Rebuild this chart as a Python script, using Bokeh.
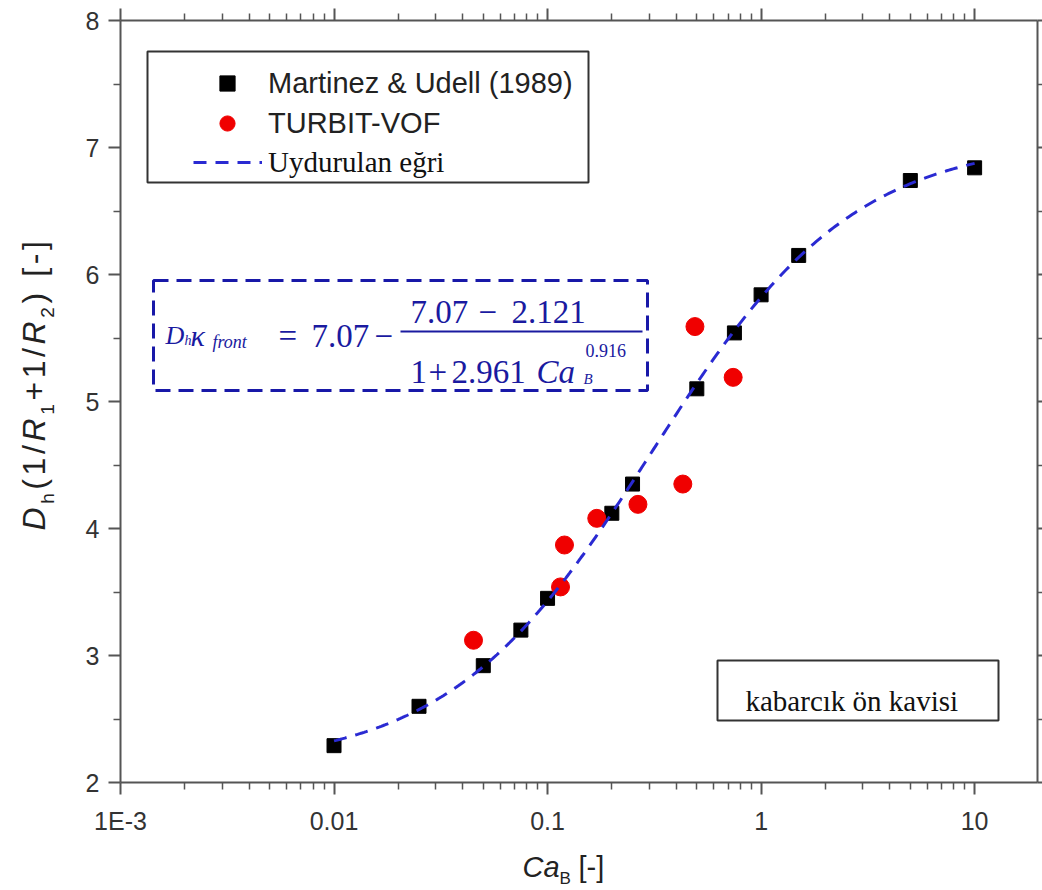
import numpy as np
from bokeh.plotting import figure
from bokeh.layouts import row, column
from bokeh.models import (Range1d, LogAxis, LinearAxis, FixedTicker, CustomJSTickFormatter,
                          Label, BoxAnnotation, Legend, LegendItem)
from bokeh.embed import file_html
from bokeh.resources import INLINE

# Martinez & Udell (1989) measurements
ca_exp = [0.01, 0.025, 0.05, 0.075, 0.1, 0.2, 0.25, 0.5, 0.75, 1.0, 1.5, 5.0, 10.0]
dk_exp = [2.29, 2.60, 2.92, 3.20, 3.45, 4.12, 4.35, 5.10, 5.54, 5.84, 6.15, 6.74, 6.84]

# TURBIT-VOF simulations
ca_sim = [0.045, 0.115, 0.12, 0.17, 0.265, 0.43, 0.49, 0.74]
dk_sim = [3.12, 3.54, 3.87, 4.08, 4.19, 4.35, 5.59, 5.19]

# fitted curve: D_h*kappa = a - (a - b) / (1 + c * Ca^n)
fit_a = 7.07
fit_b = 2.121
fit_c = 2.961
fit_n = 0.916
fit_ca_min, fit_ca_max = 0.01, 10.0

x_ticks = [0.001, 0.01, 0.1, 1, 10]
y_ticks = [2, 3, 4, 5, 6, 7, 8]

SANS = "Liberation Sans"
SERIF = "Liberation Serif"
AXIS_GREY = "#555555"
EQ_BLUE = "#1a1aa0"

W, H = 1042, 890
YT_W = 60          # strip holding the y-axis title
XT_H = 45          # strip holding the x-axis title
MAIN_W, MAIN_H = W - YT_W, H - XT_H
FL, FR, FT, FB = 120, 1037, 20, 782  # frame edges in page pixels

p = figure(width=MAIN_W, height=MAIN_H, x_axis_type="log",
           x_range=Range1d(0.001, 19.7), y_range=Range1d(2, 8),
           output_backend="svg", toolbar_location=None,
           min_border_left=FL - YT_W, min_border_right=W - FR,
           min_border_top=FT, min_border_bottom=MAIN_H - FB)
p.outline_line_color = None
p.grid.visible = False
p.background_fill_color = "white"
p.border_fill_color = "white"

x_minor = [m * 10.0 ** e for e in range(-3, 2) for m in range(2, 10) if m * 10.0 ** e <= 19.7]
y_minor = [t + 0.5 for t in y_ticks[:-1]]

log_fmt = CustomJSTickFormatter(code="""
const e = Math.round(Math.log10(tick));
if (e <= -3) return "1E" + e;
if (e < 0) return Math.pow(10, e).toFixed(-e);
return String(Math.round(Math.pow(10, e)));
""")
blank_fmt = CustomJSTickFormatter(code="return '';")


def style_axis(ax, labelled=True, tick_major=12, tick_minor=7):
    ax.axis_line_color = AXIS_GREY
    ax.axis_line_width = 2
    ax.major_tick_line_color = AXIS_GREY
    ax.major_tick_line_width = 2
    ax.minor_tick_line_color = AXIS_GREY
    ax.minor_tick_line_width = 1.5
    ax.major_tick_in = 0
    ax.major_tick_out = tick_major
    ax.minor_tick_in = 0
    ax.minor_tick_out = tick_minor
    if labelled:
        ax.major_label_text_font = SANS
        ax.major_label_text_font_size = "25px"
        ax.major_label_text_color = "#333333"
    else:
        ax.formatter = blank_fmt
        ax.major_label_text_font_size = "0px"
        ax.major_label_standoff = 0


xb = p.xaxis[0]
xb.ticker = FixedTicker(ticks=x_ticks, minor_ticks=x_minor)
xb.formatter = log_fmt
style_axis(xb)
xb.major_label_standoff = 12

yl = p.yaxis[0]
yl.ticker = FixedTicker(ticks=y_ticks, minor_ticks=y_minor)
style_axis(yl)
yl.major_label_standoff = 9

xt = LogAxis(ticker=FixedTicker(ticks=x_ticks, minor_ticks=x_minor))
style_axis(xt, labelled=False)
p.add_layout(xt, "above")

yr = LinearAxis(ticker=FixedTicker(ticks=y_ticks, minor_ticks=y_minor))
style_axis(yr, labelled=False, tick_major=5, tick_minor=5)
p.add_layout(yr, "right")

# data
ca_fit = np.logspace(np.log10(fit_ca_min), np.log10(fit_ca_max), 300)
dk_fit = fit_a - (fit_a - fit_b) / (1.0 + fit_c * ca_fit ** fit_n)

r_exp = p.scatter(ca_exp, dk_exp, marker="square", size=14,
                  fill_color="black", line_color="black")
r_sim = p.scatter(ca_sim, dk_sim, marker="circle", size=18,
                  fill_color="#f00000", line_color="#f00000")
r_fit = p.line(ca_fit, dk_fit, line_color="#2a2ad2", line_width=3, line_dash="13 9")


def put(fig, ox, oy, text, cx, cy, size, font=SANS, style="normal",
        color="#222222", angle=0.0):
    """Place a text with its baseline start at page pixel (cx, cy);
    (ox, oy) is the page position of the figure frame's bottom-left corner."""
    fig.add_layout(Label(x=cx - ox, y=oy - cy, x_units="screen", y_units="screen",
                         text=text, text_font=font, text_font_size=f"{size}px",
                         text_font_style=style, text_color=color, angle=angle,
                         text_align="left", text_baseline="alphabetic"))


def mput(*args, **kw):
    put(p, FL, FB, *args, **kw)


def box(left, top, right, bottom, **kw):
    p.add_layout(BoxAnnotation(left=left - FL, right=right - FL,
                               top=FB - top, bottom=FB - bottom,
                               left_units="screen", right_units="screen",
                               top_units="screen", bottom_units="screen", **kw))


# legend
box(147, 51, 588, 182, fill_alpha=0, line_color="#333333", line_alpha=1, line_width=2)
leg1 = Legend(items=[LegendItem(label="Martinez & Udell (1989)", renderers=[r_exp]),
                     LegendItem(label="TURBIT-VOF", renderers=[r_sim])],
              location=(88, FB - 142), glyph_width=38, glyph_height=38,
              label_standoff=22, spacing=2, padding=0, margin=0,
              border_line_color=None, background_fill_alpha=0,
              label_text_font=SANS, label_text_font_size="29px",
              label_text_color="#222222")
leg2 = Legend(items=[LegendItem(label="Uydurulan eğri", renderers=[r_fit])],
              location=(193 - FL, FB - 181), glyph_width=69, glyph_height=38,
              label_standoff=6, spacing=0, padding=0, margin=0,
              border_line_color=None, background_fill_alpha=0,
              label_text_font=SERIF, label_text_font_size="29px",
              label_text_color="#111111")
p.add_layout(leg1)
p.add_layout(leg2)

# fit equation
EQ = 33
box(153, 280, 647, 390, fill_alpha=0, line_color="#1818a8", line_alpha=1,
    line_width=3, line_dash="15 8")
mput("D", 165, 335, 26, SERIF, "italic", EQ_BLUE)
mput("h", 184, 340, 14, SERIF, "italic", EQ_BLUE)
mput("κ", 190, 335, 30, SERIF, "italic", EQ_BLUE)
mput("front", 212, 341, 18, SERIF, "italic", EQ_BLUE)
mput("=", 278, 335, EQ, SERIF, "normal", EQ_BLUE)
mput(f"{fit_a:.2f}", 311, 335, EQ, SERIF, "normal", EQ_BLUE)
mput("−", 374, 335, EQ, SERIF, "normal", EQ_BLUE)
mput(f"{fit_a:.2f}", 410, 311, EQ, SERIF, "normal", EQ_BLUE)
mput("−", 478, 311, EQ, SERIF, "normal", EQ_BLUE)
mput(f"{fit_b:.3f}", 511, 311, EQ, SERIF, "normal", EQ_BLUE)
box(400, 330, 642, 332, fill_color=EQ_BLUE, fill_alpha=1, line_color=None)
mput("1", 410, 371, EQ, SERIF, "normal", EQ_BLUE)
mput("+", 428, 371, EQ, SERIF, "normal", EQ_BLUE)
mput(f"{fit_c:.3f}", 451, 371, EQ, SERIF, "normal", EQ_BLUE)
mput("Ca", 536, 371, EQ, SERIF, "italic", EQ_BLUE)
mput(f"{fit_n:.3f}", 585, 350, 18, SERIF, "normal", EQ_BLUE)
mput("B", 583, 378, 15, SERIF, "italic", EQ_BLUE)

# annotation box
box(717, 660, 998, 720, fill_alpha=0, line_color="#333333", line_alpha=1, line_width=2)
mput("kabarcık ön kavisi", 745, 700, 29, SERIF, "normal", "#111111")


def title_strip(width, height):
    f = figure(width=width, height=height, x_range=Range1d(0, width), y_range=Range1d(0, height),
               output_backend="svg", toolbar_location=None, title=None,
               x_axis_location=None, y_axis_location=None,
               min_border_left=0, min_border_right=0, min_border_top=0, min_border_bottom=0)
    f.outline_line_color = None
    f.grid.visible = False
    f.background_fill_color = "white"
    f.border_fill_color = "white"
    return f


# x-axis title strip (page y from MAIN_H to H)
xt_fig = title_strip(W, XT_H)
put(xt_fig, 0, H, "Ca", 522, 866, 29, SANS, "italic")
put(xt_fig, 0, H, "B", 559, 878, 17, SANS)
put(xt_fig, 0, H, "[-]", 578, 866, 29, SANS)

# y-axis title strip, written bottom to top; its frame lines up with the plot frame
yt_fig = title_strip(YT_W, MAIN_H)
UP = np.pi / 2
Y_MAIN, Y_SUB, Y_TRACK = 32, 19, 3.6
advance = {"D": .722, "h": .556, "(": .333, "1": .556, "/": .278, "R": .722, "+": .584,
           "2": .556, ")": .333, " ": .278, "[": .278, "-": .333, "]": .278}
y_title = [("D", False, "italic"), ("h", True, "normal"), ("(", False, "normal"),
           ("1", False, "normal"), ("/", False, "normal"), ("R", False, "italic"),
           ("1", True, "normal"), ("+", False, "normal"), ("1", False, "normal"),
           ("/", False, "normal"), ("R", False, "italic"), ("2", True, "normal"),
           (")", False, "normal"), (" ", False, "normal"), ("[", False, "normal"),
           ("-", False, "normal"), ("]", False, "normal")]
pos = 530.0
for ch, sub, st in y_title:
    size = Y_SUB if sub else Y_MAIN
    if ch != " ":
        put(yt_fig, 0, FB, ch, 47 if sub else 33, pos, size, SANS, st,
            color="#222222", angle=UP)
    pos -= advance[ch] * size + Y_TRACK

page = column(row(yt_fig, p, spacing=0), xt_fig, spacing=0)
open("out.html", "w").write(file_html(page, INLINE))
